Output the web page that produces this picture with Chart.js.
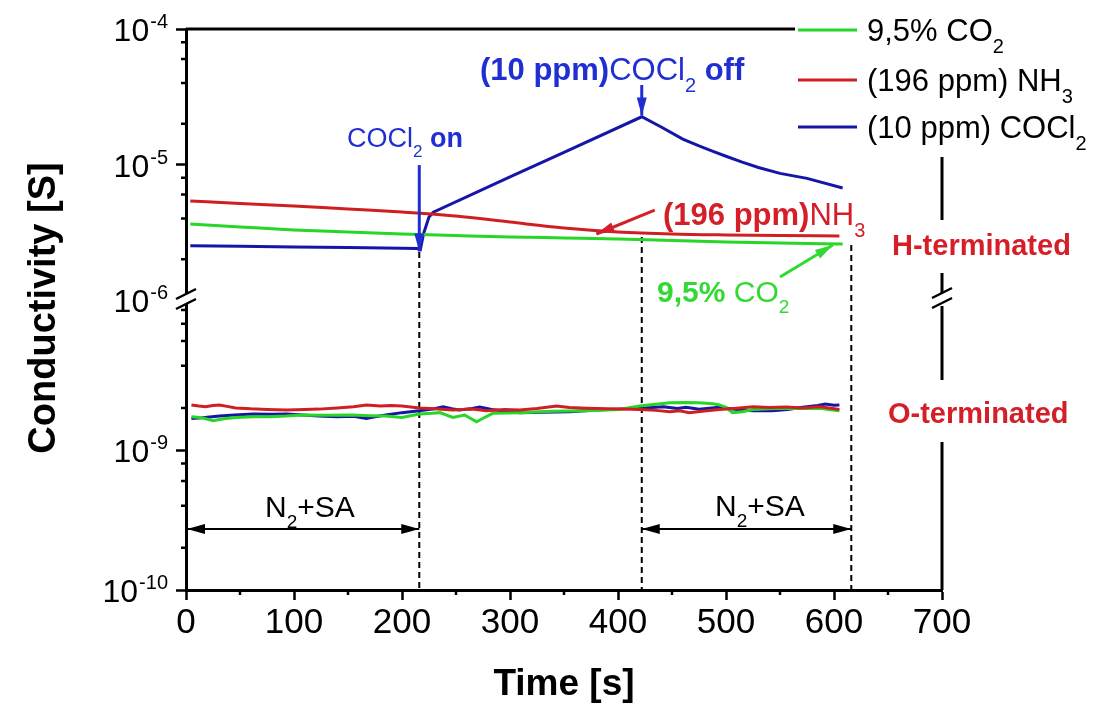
<!DOCTYPE html>
<html>
<head>
<meta charset="utf-8">
<script src="https://cdn.jsdelivr.net/npm/chart.js@4.4.1/dist/chart.umd.min.js"></script>
<style>
  html, body { margin: 0; padding: 0; background: #fff; }
  canvas { display: block; }
</style>
</head>
<body>
<canvas id="chart" width="1107" height="709"></canvas>
<script>
// ---- values ----
const timeTicks = [0, 100, 200, 300, 400, 500, 600, 700];
const highTicks = [1e-6, 1e-5, 1e-4];
const lowTicks = [1e-10, 1e-9];

const seriesLabels = ['9,5% CO2', '(196 ppm) NH3', '(10 ppm) COCl2'];

// H-terminated sample (upper panel)
const co2HighTime = [4, 50, 100, 150, 200, 250, 300, 350, 400, 450, 500, 550, 608];
const co2HighValue = [3.64e-6, 3.46e-6, 3.29e-6, 3.18e-6, 3.07e-6, 2.99e-6, 2.92e-6, 2.87e-6, 2.82e-6, 2.75e-6, 2.68e-6, 2.63e-6, 2.59e-6];

const nh3HighTime = [4, 50, 100, 150, 200, 250, 300, 350, 400, 450, 500, 550, 605];
const nh3HighValue = [5.38e-6, 5.16e-6, 4.94e-6, 4.69e-6, 4.46e-6, 4.17e-6, 3.76e-6, 3.40e-6, 3.18e-6, 3.07e-6, 3.02e-6, 2.99e-6, 2.97e-6];

const cocl2HighTime = [4, 50, 100, 150, 200, 214, 217, 220, 225, 229, 300, 350, 422, 440, 460, 475, 488, 500, 515, 530, 550, 575, 608];
const cocl2HighValue = [2.51e-6, 2.49e-6, 2.46e-6, 2.44e-6, 2.41e-6, 2.40e-6, 2.36e-6, 3.1e-6, 4.1e-6, 4.45e-6, 8.1e-6, 1.23e-5, 2.25e-5, 1.89e-5, 1.54e-5, 1.37e-5, 1.25e-5, 1.15e-5, 1.04e-5, 9.5e-6, 8.6e-6, 7.9e-6, 6.7e-6];

// O-terminated sample (lower panel), in units of 1e-9 S
const co2LowTime = [5, 15, 25, 35, 46, 62, 77, 93, 108, 130, 154, 170, 185, 200, 216, 228, 235, 247, 258, 269, 276, 284, 309, 340, 371, 401, 420, 435, 448, 462, 475, 488, 494, 500, 506, 515, 525, 540, 556, 571, 587, 597, 605];
const co2LowValue = [1.73, 1.70, 1.62, 1.67, 1.71, 1.73, 1.73, 1.75, 1.78, 1.77, 1.78, 1.76, 1.75, 1.71, 1.81, 1.83, 1.85, 1.71, 1.78, 1.59, 1.70, 1.83, 1.85, 1.89, 1.91, 1.95, 2.06, 2.12, 2.18, 2.19, 2.18, 2.14, 2.10, 2.02, 1.85, 1.88, 1.95, 1.97, 1.99, 1.98, 1.99, 1.94, 1.91];

const nh3LowTime = [5, 12, 18, 25, 31, 38, 46, 60, 75, 93, 110, 123, 140, 155, 167, 180, 190, 200, 216, 230, 247, 265, 278, 295, 309, 325, 343, 355, 371, 390, 405, 420, 435, 448, 457, 466, 480, 494, 510, 525, 540, 556, 570, 587, 597, 605];
const nh3LowValue = [2.10, 2.06, 2.04, 2.08, 2.10, 2.05, 2.00, 1.97, 1.95, 1.93, 1.95, 1.96, 2.00, 2.04, 2.10, 2.06, 2.08, 2.06, 2.00, 1.97, 1.93, 1.96, 1.91, 1.95, 1.93, 1.98, 2.06, 2.01, 1.99, 1.97, 1.96, 1.95, 1.92, 1.88, 1.91, 1.85, 1.90, 1.95, 1.99, 2.04, 2.01, 2.03, 2.00, 2.04, 1.99, 1.95];

const cocl2LowTime = [5, 15, 31, 45, 62, 80, 93, 108, 123, 140, 155, 167, 175, 185, 200, 216, 230, 238, 246, 253, 265, 272, 283, 293, 309, 330, 355, 380, 400, 420, 442, 455, 463, 475, 494, 510, 525, 543, 557, 571, 585, 592, 600, 605];
const cocl2LowValue = [1.68, 1.70, 1.75, 1.78, 1.81, 1.80, 1.81, 1.78, 1.75, 1.73, 1.74, 1.68, 1.73, 1.78, 1.85, 1.91, 1.97, 2.04, 1.97, 1.93, 1.98, 2.03, 1.95, 1.91, 1.85, 1.86, 1.88, 1.93, 1.96, 1.99, 2.04, 1.98, 2.02, 1.96, 2.02, 1.95, 1.91, 1.91, 1.95, 2.02, 2.08, 2.13, 2.09, 2.10];

// gas switching events (s) and where the dashed markers start
const markerTime = [216, 422, 616];
const markerTop = [2.26e-6, 2.92e-6, 2.55e-6];

const FONT = "'Liberation Sans', Arial, Helvetica, sans-serif";
const GREEN = '#27d627';
const RED = '#d01f22';
const BLUE = '#1616a6';
const BLUE_TXT = '#1f2fd2';
const RED_TXT = '#d41f28';
const GREEN_TXT = '#33d933';

function pts(times, values, scale) {
    return times.map((t, i) => ({ x: t, y: values[i] * (scale || 1) }));
}

function lineSet(label, color, data, axis, order, smooth) {
    return {
        label: label,
        data: data,
        yAxisID: axis,
        borderColor: color,
        borderWidth: 3,
        pointRadius: 0,
        fill: false,
        order: order,
        tension: 0,
        cubicInterpolationMode: smooth ? 'monotone' : 'default'
    };
}

// draw a string made of regular / bold / subscript pieces
function richText(ctx, x, y, parts, size, color, align) {
    const fontOf = p => p[1] === 's'
        ? Math.round(size * 0.64) + 'px ' + FONT
        : (p[1] === 'b' ? 'bold ' : '') + size + 'px ' + FONT;
    let w = 0;
    parts.forEach(p => { ctx.font = fontOf(p); w += ctx.measureText(p[0]).width; });
    let cx = align === 'center' ? x - w / 2 : x;
    ctx.fillStyle = color;
    ctx.textAlign = 'left';
    ctx.textBaseline = 'alphabetic';
    parts.forEach(p => {
        ctx.font = fontOf(p);
        ctx.fillText(p[0], cx, p[1] === 's' ? y + size * 0.38 : y);
        cx += ctx.measureText(p[0]).width;
    });
}

function arrow(ctx, x1, y1, x2, y2, color, width, both) {
    const head = (xa, ya, xb, yb) => {
        const ang = Math.atan2(yb - ya, xb - xa);
        ctx.beginPath();
        ctx.moveTo(xb, yb);
        ctx.lineTo(xb - 18 * Math.cos(ang) + 5 * Math.sin(ang), yb - 18 * Math.sin(ang) - 5 * Math.cos(ang));
        ctx.lineTo(xb - 18 * Math.cos(ang) - 5 * Math.sin(ang), yb - 18 * Math.sin(ang) + 5 * Math.cos(ang));
        ctx.closePath();
        ctx.fill();
    };
    ctx.strokeStyle = color;
    ctx.fillStyle = color;
    ctx.lineWidth = width;
    ctx.beginPath();
    ctx.moveTo(x1, y1);
    ctx.lineTo(x2, y2);
    ctx.stroke();
    head(x1, y1, x2, y2);
    if (both) head(x2, y2, x1, y1);
}

function breakMark(ctx, cx, cy) {
    ctx.fillStyle = '#fff';
    ctx.beginPath();
    ctx.moveTo(cx - 10, cy + 2);
    ctx.lineTo(cx + 10, cy - 8);
    ctx.lineTo(cx + 10, cy + 2);
    ctx.lineTo(cx - 10, cy + 12);
    ctx.closePath();
    ctx.fill();
    ctx.strokeStyle = '#000';
    ctx.lineWidth = 2.5;
    ctx.beginPath();
    ctx.moveTo(cx - 10, cy + 2); ctx.lineTo(cx + 10, cy - 8);
    ctx.moveTo(cx - 10, cy + 12); ctx.lineTo(cx + 10, cy + 2);
    ctx.stroke();
}

const decor = {
    id: 'decor',
    beforeDatasetsDraw(chart) {
        const ctx = chart.ctx, x = chart.scales.x, hi = chart.scales.yHigh, lo = chart.scales.yLow;
        ctx.save();
        ctx.setLineDash([6, 4]);
        ctx.lineWidth = 2;
        ctx.strokeStyle = '#000';
        markerTime.forEach((t, i) => {
            const px = x.getPixelForValue(t);
            ctx.beginPath();
            ctx.moveTo(px, hi.getPixelForValue(markerTop[i]));
            ctx.lineTo(px, lo.bottom);
            ctx.stroke();
        });
        ctx.restore();
    },
    afterDraw(chart) {
        const ctx = chart.ctx, x = chart.scales.x, hi = chart.scales.yHigh, lo = chart.scales.yLow;
        const area = chart.chartArea;
        const X = t => x.getPixelForValue(t);
        ctx.save();

        // minor ticks
        ctx.strokeStyle = '#000';
        ctx.lineWidth = 2.5;
        ctx.beginPath();
        for (let t = 50; t < 700; t += 100) {
            ctx.moveTo(X(t), x.top); ctx.lineTo(X(t), x.top + 5);
        }
        [[hi, [-6, -5]], [lo, [-10, -9]]].forEach(([s, decs]) => {
            decs.forEach(n => [2, 4, 6, 8].forEach(m => {
                const py = s.getPixelForValue(m * Math.pow(10, n));
                ctx.moveTo(s.right - 5, py); ctx.lineTo(s.right, py);
            }));
        });
        const p8 = lo.getPixelForValue(1e-8);
        ctx.moveTo(lo.right - 5, p8); ctx.lineTo(lo.right, p8);
        ctx.stroke();

        // top frame and broken right axis
        ctx.lineWidth = 3;
        ctx.beginPath();
        ctx.moveTo(area.left, area.top); ctx.lineTo(795, area.top);
        [[157, 220], [273, 296], [306, 380], [442, area.bottom]].forEach(([a, b]) => {
            ctx.moveTo(area.right, a); ctx.lineTo(area.right, b);
        });
        ctx.stroke();
        breakMark(ctx, area.left, hi.bottom - 3);
        breakMark(ctx, area.right, hi.bottom - 4);

        // y tick labels 10^n
        [hi, lo].forEach(s => {
            const list = s === hi ? highTicks : lowTicks;
            list.forEach(v => {
                const py = s.getPixelForValue(v);
                const ex = String(Math.round(Math.log10(v)));
                ctx.fillStyle = '#000';
                ctx.textAlign = 'right';
                ctx.textBaseline = 'alphabetic';
                ctx.font = '20px ' + FONT;
                const ew = ctx.measureText(ex).width;
                ctx.fillText(ex, 168, py - 1);
                ctx.font = '32px ' + FONT;
                ctx.fillText('10', 167 - ew, py + 12);
            });
        });

        // y axis title
        ctx.save();
        ctx.translate(55, 308);
        ctx.rotate(-Math.PI / 2);
        ctx.font = 'bold 38px ' + FONT;
        ctx.fillStyle = '#000';
        ctx.textAlign = 'center';
        ctx.textBaseline = 'alphabetic';
        ctx.fillText('Conductivity [S]', 0, 0);
        ctx.restore();

        // legend
        const legendParts = [
            [['9,5% CO', 'r'], ['2', 's']],
            [['(196 ppm) NH', 'r'], ['3', 's']],
            [['(10 ppm) COCl', 'r'], ['2', 's']]
        ];
        [30, 80, 127].forEach((ly, i) => {
            ctx.strokeStyle = chart.data.datasets[i].borderColor;
            ctx.lineWidth = 3;
            ctx.beginPath();
            ctx.moveTo(798, ly); ctx.lineTo(857, ly);
            ctx.stroke();
            richText(ctx, 867, ly + 11, legendParts[i], 31, '#000');
        });

        // arrows
        arrow(ctx, X(216), hi.getPixelForValue(9.9e-6), X(216), hi.getPixelForValue(2.28e-6), BLUE_TXT, 3);
        arrow(ctx, X(422), hi.getPixelForValue(3.86e-5), X(422), hi.getPixelForValue(2.3e-5), BLUE_TXT, 3);
        arrow(ctx, X(434), hi.getPixelForValue(4.61e-6), X(380), hi.getPixelForValue(3.07e-6), RED_TXT, 3);
        arrow(ctx, X(550), hi.getPixelForValue(1.48e-6), X(599), hi.getPixelForValue(2.55e-6), GREEN_TXT, 3);
        const ya = lo.getPixelForValue(2.73e-10);
        arrow(ctx, X(0) + 1, ya, X(216), ya, '#000', 2, true);
        arrow(ctx, X(422), ya, X(616), ya, '#000', 2, true);

        // annotations
        richText(ctx, 347, 147, [['COCl', 'r'], ['2', 's'], [' on', 'b']], 27, BLUE_TXT);
        richText(ctx, 480, 80, [['(10 ppm)', 'b'], ['COCl', 'r'], ['2', 's'], [' off', 'b']], 31, BLUE_TXT);
        richText(ctx, 663, 225, [['(196 ppm)', 'b'], ['NH', 'r'], ['3', 's']], 31, RED_TXT);
        richText(ctx, 657, 302, [['9,5%', 'b'], [' CO', 'r'], ['2', 's']], 30, GREEN_TXT);
        richText(ctx, 892, 255, [['H-terminated', 'b']], 29, RED_TXT);
        richText(ctx, 888, 423, [['O-terminated', 'b']], 29, RED_TXT);
        richText(ctx, 265, 517, [['N', 'r'], ['2', 's'], ['+SA', 'r']], 30, '#000');
        richText(ctx, 715, 516, [['N', 'r'], ['2', 's'], ['+SA', 'r']], 30, '#000');

        ctx.restore();
    }
};

const yCommon = {
    type: 'logarithmic',
    position: 'left',
    stack: 'cond',
    ticks: { display: false },
    grid: { drawOnChartArea: false, tickLength: 10, tickColor: '#000', tickWidth: 2.5 },
    border: { color: '#000', width: 3 },
    afterFit: s => { s.width = 186; }
};

new Chart(document.getElementById('chart'), {
    type: 'line',
    data: {
        datasets: [
            lineSet(seriesLabels[0], GREEN, pts(co2HighTime, co2HighValue), 'yHigh', 1, true),
            lineSet(seriesLabels[1], RED, pts(nh3HighTime, nh3HighValue), 'yHigh', 0, true),
            lineSet(seriesLabels[2], BLUE, pts(cocl2HighTime, cocl2HighValue), 'yHigh', 2, false),
            lineSet(seriesLabels[0], GREEN, pts(co2LowTime, co2LowValue, 1e-9), 'yLow', 1, false),
            lineSet(seriesLabels[1], RED, pts(nh3LowTime, nh3LowValue, 1e-9), 'yLow', 0, false),
            lineSet(seriesLabels[2], BLUE, pts(cocl2LowTime, cocl2LowValue, 1e-9), 'yLow', 2, false)
        ]
    },
    options: {
        responsive: false,
        animation: false,
        layout: { padding: { top: 29, right: 165, left: 0, bottom: 0 } },
        plugins: { legend: { display: false }, tooltip: { enabled: false } },
        scales: {
            x: {
                type: 'linear',
                min: 0,
                max: 700,
                afterBuildTicks: s => { s.ticks = timeTicks.map(v => ({ value: v })); },
                ticks: { color: '#000', font: { family: FONT, size: 35 }, padding: 2, maxRotation: 0 },
                grid: { drawOnChartArea: false, tickLength: 10, tickColor: '#000', tickWidth: 2.5 },
                border: { color: '#000', width: 3 },
                title: { display: true, text: 'Time [s]', color: '#000', font: { family: FONT, size: 37, weight: 'bold' }, padding: { top: 0, bottom: 2 } },
                afterFit: s => { s.height = 119; }
            },
            yLow: Object.assign({}, yCommon, {
                min: 1e-10,
                max: 1.18e-8,
                stackWeight: 290,
                afterBuildTicks: s => { s.ticks = lowTicks.map(v => ({ value: v })); }
            }),
            yHigh: Object.assign({}, yCommon, {
                min: 1e-6,
                max: 1e-4,
                stackWeight: 271,
                afterBuildTicks: s => { s.ticks = highTicks.map(v => ({ value: v })); }
            })
        }
    },
    plugins: [decor]
});
</script>
</body>
</html>
